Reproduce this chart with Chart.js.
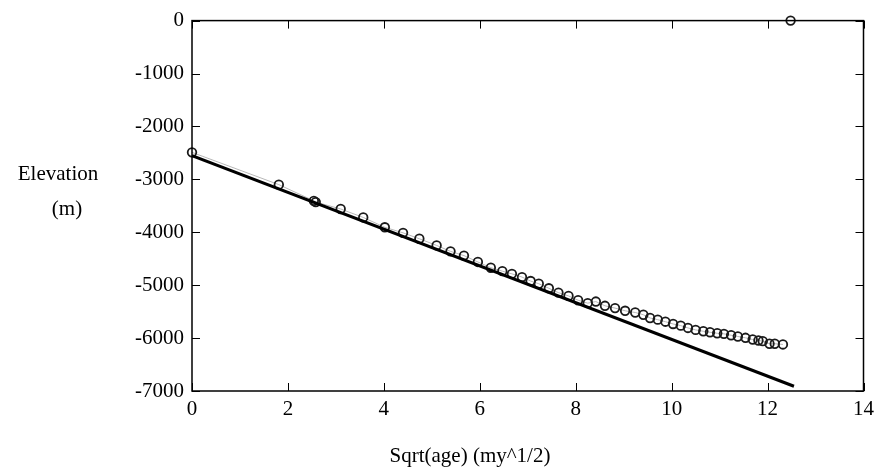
<!DOCTYPE html>
<html>
<head>
<meta charset="utf-8">
<script src="https://cdn.jsdelivr.net/npm/chart.js@4"></script>
<style>
  html, body { margin: 0; padding: 0; background: #fff; }
  #wrap { width: 880px; height: 473px; }
</style>
</head>
<body>
<div id="wrap"><canvas id="chart" width="880" height="473"></canvas></div>
<script>
// --- DATI ---
const sqrtAge = [0.0, 1.81, 2.54, 2.58, 3.1, 3.57, 4.02, 4.40, 4.74, 5.10, 5.39, 5.67, 5.96, 6.23,
  6.47, 6.67, 6.88, 7.06, 7.23, 7.44, 7.64, 7.85, 8.05, 8.25, 8.42, 8.61, 8.82, 9.03, 9.24, 9.41,
  9.55, 9.71, 9.87, 10.03, 10.19, 10.34, 10.50, 10.66, 10.80, 10.95, 11.09, 11.24, 11.38, 11.54,
  11.69, 11.81, 11.90, 12.04, 12.15, 12.32];
const elevation = [-2490, -3100, -3406, -3430, -3560, -3720, -3906, -4011, -4123, -4249, -4361, -4441, -4561, -4670,
  -4735, -4786, -4847, -4922, -4973, -5059, -5141, -5203, -5284, -5340, -5310, -5390, -5433, -5484, -5516, -5559,
  -5620, -5652, -5690, -5733, -5765, -5808, -5845, -5871, -5890, -5909, -5920, -5946, -5970, -5995,
  -6027, -6045, -6058, -6107, -6107, -6120];

// punto isolato in alto
const outlierX = [12.48];
const outlierY = [0];

// retta di fit
const fitX = [0, 12.55];
const fitY = [-2550, -6910];

const xTicks = [0, 2, 4, 6, 8, 10, 12, 14];
const yTicks = [0, -1000, -2000, -3000, -4000, -5000, -6000, -7000];

const FONT = "Liberation Serif";

function toPoints(xs, ys) {
  return xs.map((x, i) => ({ x: x, y: ys[i] }));
}

// tacche interne, cornice e testi
const framePlugin = {
  id: "frame",
  afterDraw(chart) {
    const ctx = chart.ctx;
    const a = chart.chartArea;
    const sx = chart.scales.x, sy = chart.scales.y;
    const len = 8;
    ctx.save();
    ctx.strokeStyle = "#000";
    ctx.lineWidth = 1;
    ctx.beginPath();
    xTicks.forEach(v => {
      const px = Math.round(sx.getPixelForValue(v)) + 0.5;
      ctx.moveTo(px, a.bottom); ctx.lineTo(px, a.bottom - len);
      ctx.moveTo(px, a.top); ctx.lineTo(px, a.top + len);
    });
    yTicks.forEach(v => {
      const py = Math.round(sy.getPixelForValue(v)) + 0.5;
      ctx.moveTo(a.left, py); ctx.lineTo(a.left + len, py);
      ctx.moveTo(a.right, py); ctx.lineTo(a.right - len, py);
    });
    ctx.stroke();
    ctx.lineWidth = 1.5;
    ctx.strokeRect(a.left, a.top, a.right - a.left, a.bottom - a.top);

    ctx.fillStyle = "#000";
    ctx.font = "21px '" + FONT + "'";
    ctx.textAlign = "center";
    ctx.textBaseline = "middle";
    ctx.fillText("Elevation", 58, 174);
    ctx.fillText("(m)", 67, 209);
    ctx.fillText("Sqrt(age) (my^1/2)", 470, 456);
    ctx.restore();
  }
};

const pointStyle = {
  pointRadius: 4.3,
  pointBorderWidth: 1.8,
  pointBorderColor: "#1a1a1a",
  pointBackgroundColor: "rgba(0,0,0,0)"
};

new Chart(document.getElementById("chart"), {
  type: "scatter",
  data: {
    datasets: [
      {
        data: toPoints(fitX, fitY),
        showLine: true,
        borderColor: "#000",
        borderWidth: 3,
        pointRadius: 0,
        order: 0
      },
      Object.assign({
        data: toPoints(sqrtAge, elevation),
        showLine: true,
        borderColor: "#b8b8b8",
        borderWidth: 1,
        clip: false,
        order: 1
      }, pointStyle),
      Object.assign({
        data: toPoints(outlierX, outlierY),
        showLine: false,
        clip: false,
        order: 1
      }, pointStyle)
    ]
  },
  options: {
    responsive: false,
    animation: false,
    layout: { padding: { top: 17, right: 15, left: 0, bottom: 0 } },
    plugins: { legend: { display: false }, tooltip: { enabled: false } },
    scales: {
      x: {
        type: "linear",
        min: 0, max: 14,
        afterBuildTicks: s => { s.ticks = xTicks.map(v => ({ value: v })); },
        afterFit: s => { s.height = 82; },
        grid: { display: false, drawTicks: false },
        border: { display: false },
        ticks: { color: "#000", padding: 6, font: { family: FONT, size: 21 }, callback: v => String(v) }
      },
      y: {
        type: "linear",
        min: -7000, max: 0,
        afterBuildTicks: s => { s.ticks = yTicks.map(v => ({ value: v })); },
        afterFit: s => { s.width = 192; },
        grid: { display: false, drawTicks: false },
        border: { display: false },
        ticks: { color: "#000", padding: 8, font: { family: FONT, size: 21 }, callback: v => String(v) }
      }
    }
  },
  plugins: [framePlugin]
});
</script>
</body>
</html>
